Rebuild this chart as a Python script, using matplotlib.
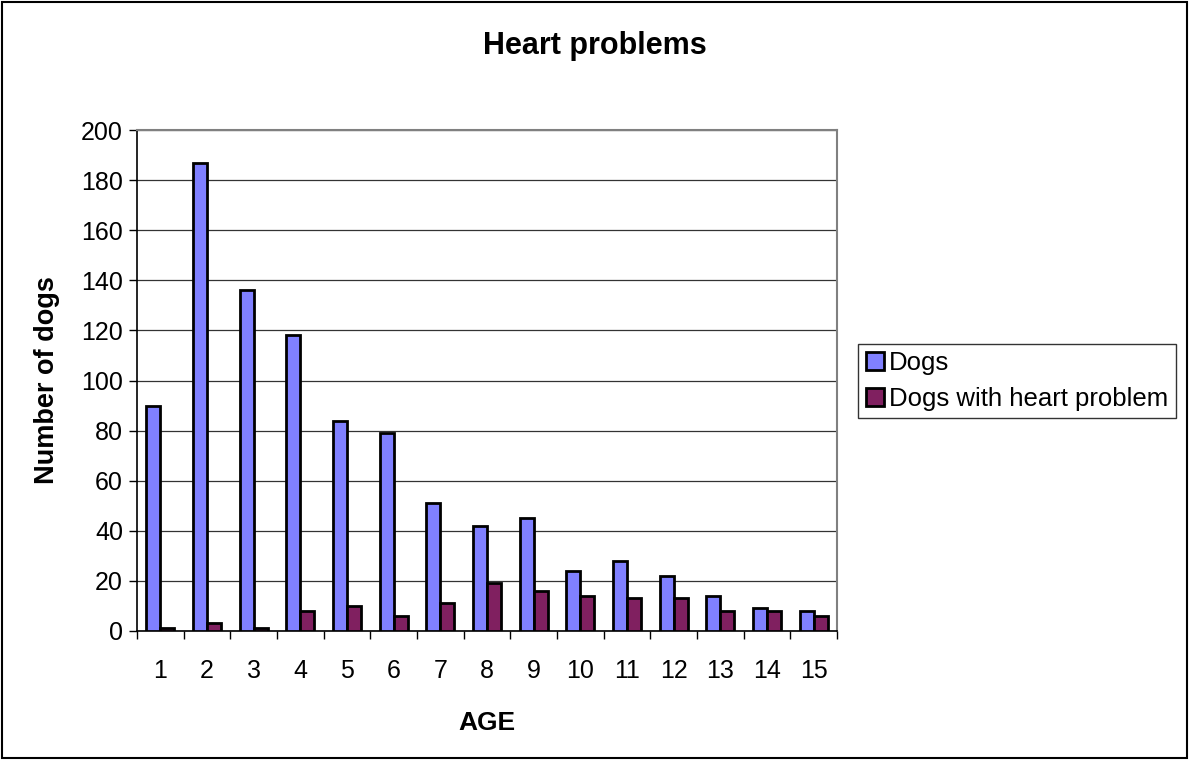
import numpy as np
import matplotlib
matplotlib.use("Agg")
import matplotlib.pyplot as plt
from matplotlib.patches import Rectangle

plt.rcParams['font.family'] = ['Liberation Sans', 'DejaVu Sans']

# data
ages = [str(i) for i in range(1, 16)]
dogs = [90, 187, 136, 118, 84, 79, 51, 42, 45, 24, 28, 22, 14, 9, 8]
heart = [1, 3, 1, 8, 10, 6, 11, 19, 16, 14, 13, 13, 8, 8, 6]
y_ticks = [0, 20, 40, 60, 80, 100, 120, 140, 160, 180, 200]

W, H = 1189, 760
fig = plt.figure(figsize=(W / 100, H / 100), dpi=100)

# plot area in pixels: x 137..837, y 130..631
ax = fig.add_axes([137 / W, 1 - 631 / H, 700 / W, 501 / H])

x = np.arange(len(ages))
bw = 0.3
ax.bar(x - bw / 2, dogs, bw, color='#8080FF', edgecolor='black', linewidth=2.0,
       label='Dogs', zorder=3)
ax.bar(x + bw / 2, heart, bw, color='#802060', edgecolor='black', linewidth=2.0,
       label='Dogs with heart problem', zorder=3)

ax.set_xlim(-0.5, len(ages) - 0.5)
ax.set_ylim(0, 200)
ax.set_yticks(y_ticks)
ax.set_yticklabels([str(v) for v in y_ticks], fontsize=18)
ax.yaxis.grid(True, color='#333333', linewidth=0.9, zorder=0)

# category ticks sit at boundaries, labels centered
ax.set_xticks(np.arange(len(ages) + 1) - 0.5)
ax.set_xticklabels([])
ax.set_xticks(x, minor=True)
ax.set_xticklabels(ages, minor=True, fontsize=18)
ax.tick_params(axis='x', which='minor', length=0, pad=20)
ax.tick_params(axis='x', which='major', length=6, width=1, direction='out')
ax.tick_params(axis='y', length=6, width=1, direction='out', pad=4)

for s in ['top', 'right']:
    ax.spines[s].set_color('#808080')
    ax.spines[s].set_linewidth(1.5)
for s in ['left', 'bottom']:
    ax.spines[s].set_color('black')
    ax.spines[s].set_linewidth(1.2)

ax.set_xlabel('AGE', fontsize=19, fontweight='bold', labelpad=20)
ax.set_ylabel('Number of dogs', fontsize=19.5, fontweight='bold', labelpad=15)

fig.text(0.5, 1 - 46 / H, 'Heart problems', fontsize=22, fontweight='bold',
         ha='center', va='center')

leg = fig.legend(loc='center left', bbox_to_anchor=(858 / W, 1 - 381 / H),
                 fontsize=18.5, frameon=True, fancybox=False, handlelength=0.7,
                 handleheight=0.7, handletextpad=0.2, borderpad=0.3,
                 labelspacing=0.45, borderaxespad=0)
leg.get_frame().set_edgecolor('black')
leg.get_frame().set_linewidth(1.0)

# outer chart border
fig.patches.append(Rectangle((2 / W, 2 / H), 1 - 4 / W, 1 - 4 / H,
                             transform=fig.transFigure, fill=False,
                             edgecolor='black', linewidth=1.5))

fig.savefig('out.png', dpi=100)
